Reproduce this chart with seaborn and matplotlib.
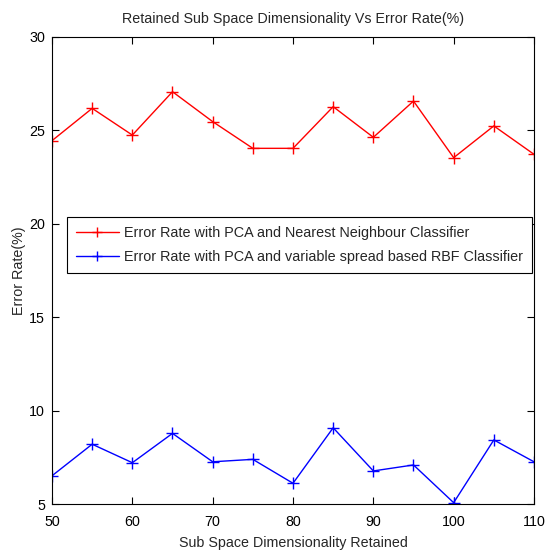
import matplotlib
matplotlib.use("Agg")
import matplotlib.pyplot as plt
import seaborn as sns
import pandas as pd

dims = [50, 55, 60, 65, 70, 75, 80, 85, 90, 95, 100, 105, 110]
nn_error = [24.45, 26.18, 24.75, 27.07, 25.47, 24.04, 24.04, 26.27, 24.63, 26.57, 23.54, 25.24, 23.72]
rbf_error = [6.51, 8.2, 7.21, 8.78, 7.26, 7.39, 6.11, 9.08, 6.77, 7.09, 5.07, 8.43, 7.26]
label_nn = "Error Rate with PCA and Nearest Neighbour Classifier"
label_rbf = "Error Rate with PCA and variable spread based RBF Classifier"

df = pd.DataFrame({
    "dim": dims + dims,
    "err": nn_error + rbf_error,
    "series": [label_nn] * len(dims) + [label_rbf] * len(dims),
})

sns.set_style("ticks")
plt.rcParams["font.family"] = ["Liberation Sans", "DejaVu Sans"]

fig = plt.figure(figsize=(5.49, 5.51), dpi=100)
ax = fig.add_axes([52 / 549, 47 / 551, 482 / 549, 467 / 551])

sns.lineplot(data=df, x="dim", y="err", hue="series",
             palette={label_nn: "#ff0000", label_rbf: "#0000ff"},
             marker="+", markersize=9, markeredgewidth=1.0, linewidth=1.0,
             ax=ax, legend=False)

for ln in ax.get_lines():
    ln.set_markeredgecolor(ln.get_color())
    ln.set_markerfacecolor(ln.get_color())

ax.set_xlim(50, 110)
ax.set_ylim(5, 30)
ax.set_xticks([50, 60, 70, 80, 90, 100, 110])
ax.set_yticks([5, 10, 15, 20, 25, 30])
ax.tick_params(direction="in", top=True, right=True, length=5, width=0.8,
               labelsize=10.3, colors="black")
ax.tick_params(axis="x", pad=8)
ax.tick_params(axis="y", pad=5)
for s in ax.spines.values():
    s.set_visible(True)
    s.set_color("black")
    s.set_linewidth(0.8)

ax.set_title("Retained Sub Space Dimensionality Vs Error Rate(%)", fontsize=10.3, pad=10)
ax.set_xlabel("Sub Space Dimensionality Retained", fontsize=10.3, labelpad=5)
ax.set_ylabel("Error Rate(%)", fontsize=10.3, labelpad=2)

lines = ax.get_lines()
leg = ax.legend(lines[:2], [label_nn, label_rbf],
                loc="upper left", bbox_to_anchor=(15 / 482, (504 - 217) / 467),
                fontsize=10.4, frameon=True, fancybox=False, borderpad=0.6,
                handlelength=3.0, handletextpad=0.35, labelspacing=0.75,
                borderaxespad=0)
for h in leg.legend_handles:
    h.set_markersize(7)
leg.get_frame().set_edgecolor("black")
leg.get_frame().set_linewidth(0.8)
leg.get_frame().set_alpha(1)

fig.savefig("out.png", dpi=100)
